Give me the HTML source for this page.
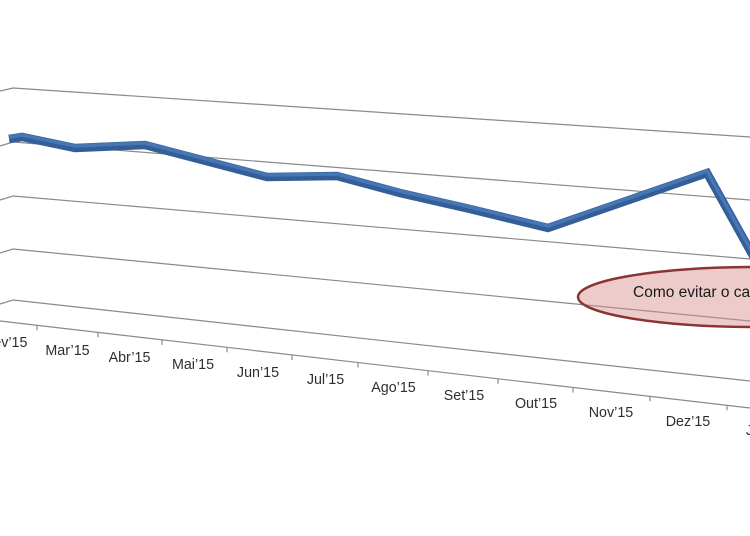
<!DOCTYPE html>
<html>
<head>
<meta charset="utf-8">
<style>
  html, body { margin: 0; padding: 0; background: #ffffff; }
  body { width: 750px; height: 536px; overflow: hidden; }
  svg { display: block; }
  text { font-family: "Liberation Sans", "DejaVu Sans", sans-serif; }
</style>
</head>
<body>
<svg width="750" height="536" viewBox="0 0 750 536" xmlns="http://www.w3.org/2000/svg">
  <rect x="0" y="0" width="750" height="536" fill="#ffffff"/>

  <!-- gridlines (back wall + side wall kinks) -->
  <g fill="none" stroke="#8a8a8a" stroke-width="1.2">
    <polyline points="0,91 13,88 750,137"/>
    <polyline points="0,146 13,142 750,200"/>
    <polyline points="0,200 13,196 750,259"/>
    <polyline points="0,253 13,249 750,321"/>
    <polyline points="0,304 13,300 750,381"/>
    <!-- floor front edge -->
    <polyline points="0,321 750,408"/>
  </g>

  <!-- ticks -->
  <g stroke="#8a8a8a" stroke-width="1.2">
    <line x1="37" y1="325.3" x2="37" y2="330.3"/>
    <line x1="98" y1="332.4" x2="98" y2="337.4"/>
    <line x1="162" y1="339.8" x2="162" y2="344.8"/>
    <line x1="227" y1="347.3" x2="227" y2="352.3"/>
    <line x1="292" y1="354.9" x2="292" y2="359.9"/>
    <line x1="358" y1="362.5" x2="358" y2="367.5"/>
    <line x1="428" y1="370.6" x2="428" y2="375.6"/>
    <line x1="498" y1="378.8" x2="498" y2="383.8"/>
    <line x1="573" y1="387.5" x2="573" y2="392.5"/>
    <line x1="650" y1="396.4" x2="650" y2="401.4"/>
    <line x1="727" y1="405.3" x2="727" y2="410.3"/>
  </g>

  <!-- category labels -->
  <g font-size="14.3" fill="#2e2e2e" text-anchor="middle">
    <text x="6" y="347">Fev’15</text>
    <text x="67.5" y="355">Mar’15</text>
    <text x="129.5" y="362">Abr’15</text>
    <text x="193" y="369">Mai’15</text>
    <text x="258" y="377">Jun’15</text>
    <text x="325.5" y="384">Jul’15</text>
    <text x="393.5" y="392">Ago’15</text>
    <text x="464" y="400">Set’15</text>
    <text x="536" y="408">Out’15</text>
    <text x="611" y="417">Nov’15</text>
    <text x="688" y="426">Dez’15</text>
    <text x="767" y="435">Jan’16</text>
  </g>

  <!-- 3D ribbon series -->
  <g fill="none" stroke-linejoin="miter" stroke-miterlimit="6">
    <polyline stroke="#335e98" stroke-width="8.5"
      points="9,139 22,137 75,148 145,145 267,177 337,176 400,193 470,209 548,228 707,173 762,272"/>
    <polyline stroke="#4676b4" stroke-width="3.5"
      points="9,137 22,135 75,146 145,143 267,175 337,174 400,191 470,207 548,226 707,171 762,270"/>
  </g>

  <!-- callout ellipse -->
  <ellipse cx="757" cy="297" rx="179" ry="30" fill="rgba(218,140,140,0.45)" stroke="#8b3434" stroke-width="2.5"/>
  <text x="633" y="297" font-size="15.5" fill="#1a1a1a">Como evitar o cadastro</text>
</svg>
</body>
</html>
